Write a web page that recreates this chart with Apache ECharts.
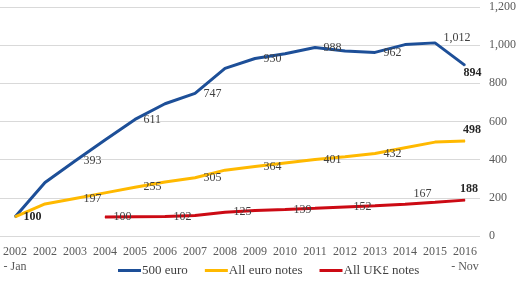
<!DOCTYPE html>
<html>
<head>
<meta charset="utf-8">
<script src="https://cdn.jsdelivr.net/npm/echarts@6/dist/echarts.min.js"></script>
<style>
html, body { margin: 0; padding: 0; background: #fff; }
#main { width: 520px; height: 285px; }
</style>
</head>
<body>
<div id="main"></div>
<script>
var mychart = echarts.init(document.getElementById('main'));

// x categories (first and last are partial years)
var categories = ['2002\n- Jan', '2002', '2003', '2004', '2005', '2006', '2007', '2008',
    '2009', '2010', '2011', '2012', '2013', '2014', '2015', '2016\n- Nov'];

// index values, 2002 Jan = 100 (UK starts 2004 = 100)
var euro500 = [100, 280, 393, 503, 611, 693, 747, 878, 930, 955, 988, 970, 962, 1003, 1012, 894];
var allEuro = [100, 168, 197, 226, 255, 283, 305, 345, 364, 383, 401, 415, 432, 462, 492, 498];
var allUK = [null, null, null, 100, 101, 102, 108, 125, 134, 139, 145, 152, 159, 167, 177, 188];

var yMin = 0, yMax = 1200, yStep = 200;

var serif = '"Liberation Serif", "DejaVu Serif", serif';
var bold = { fontWeight: 'bold', color: '#262626' };

function commas(v) {
    return echarts.format.addCommas(v);
}

// which points carry a data label, plus the few that sit elsewhere
function buildData(values, labelled, special) {
    return values.map(function (v, i) {
        var item = { value: v };
        if (special[i]) {
            item.label = Object.assign({ show: true }, special[i]);
        } else if (labelled.indexOf(i) >= 0) {
            item.label = { show: true };
        }
        return item;
    });
}

function lineSeries(name, color, data) {
    return {
        name: name,
        type: 'line',
        symbol: 'circle',
        symbolSize: 1,
        showSymbol: true,
        lineStyle: { width: 3, color: color },
        itemStyle: { color: color },
        label: {
            show: false,
            position: 'right',
            distance: 8,
            color: '#404040',
            fontSize: 12,
            fontFamily: serif,
            formatter: function (p) { return commas(p.value); }
        },
        data: data
    };
}

var series = [
    lineSeries('500 euro', '#1D4F98', buildData(euro500, [2, 4, 6, 8, 10, 12], {
        0: bold,
        14: { offset: [0, -5] },
        15: Object.assign({ offset: [-10, 8] }, bold)
    })),
    lineSeries('All euro notes', '#FFB900', buildData(allEuro, [2, 4, 6, 8, 10, 12], {
        15: Object.assign({ position: 'top', distance: 5, offset: [7, 0] }, bold)
    })),
    lineSeries('All UK£ notes', '#CC0A14', buildData(allUK, [3, 5, 7, 9, 11], {
        13: { offset: [0, -10] },
        15: Object.assign({ position: 'top', distance: 5, offset: [4, 0] }, bold)
    }))
];

var option = {
    animation: false,
    textStyle: { fontFamily: serif },
    grid: { left: 0, right: 40, top: 7, bottom: 49, containLabel: false },
    legend: {
        left: 113,
        bottom: 3,
        icon: 'rect',
        itemWidth: 23,
        itemHeight: 3,
        itemGap: 17,
        textStyle: { fontSize: 13, color: '#404040', fontFamily: serif, padding: [0, 0, 0, -4] },
        data: ['500 euro', 'All euro notes', 'All UK£ notes']
    },
    xAxis: {
        type: 'category',
        boundaryGap: true,
        data: categories,
        axisLine: { show: false },
        axisTick: { show: false },
        axisLabel: {
            interval: 0,
            margin: 8,
            color: '#595959',
            fontSize: 12,
            lineHeight: 15,
            fontFamily: serif
        }
    },
    yAxis: {
        type: 'value',
        position: 'right',
        min: yMin,
        max: yMax,
        interval: yStep,
        axisLine: { show: false },
        axisTick: { show: false },
        splitLine: { lineStyle: { color: '#D9D9D9', width: 1 } },
        axisLabel: {
            margin: 9,
            color: '#595959',
            fontSize: 12,
            fontFamily: serif,
            formatter: commas
        }
    },
    series: series
};

mychart.setOption(option);
</script>
</body>
</html>
